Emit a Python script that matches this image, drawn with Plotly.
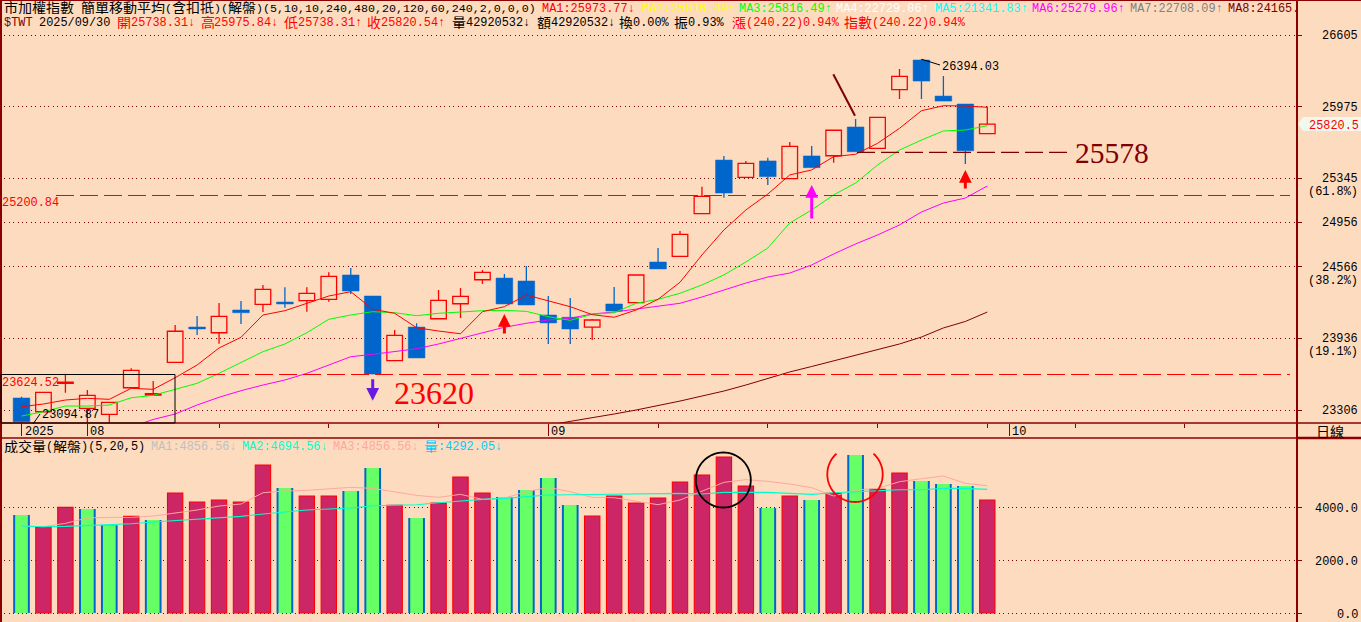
import math
import re
import plotly.graph_objects as go

W, H = 1361, 622

# ---- price data ----
opens = [23412,23291,23540,23321,23268,23502,23438,23726,24036,23986,24186,24236,24256,24268,24280,
         24494,24309,23740,24036,24109,24241,24452,24467,24441,24142,24122,24036,24239,24250,24608,
         24658,25033,25505,25353,25497,25341,25541,25543,25796,25608,26124,26385,26068,25998,25738.31]
highs = [23423,23462,23624.52,23482,23374,23673,23561,24054,24133,24247,24265,24406,24386,24386,24517,
         24555,24309,24010,24069,24362,24379,24538,24503,24573,24309,24291,24107,24388,24494,24731,
         24881,25271,25541,25497,25526,25664,25629,25767,25866,25881,26306,26394.03,26244,25998,25975.84]
lows = [23094.87,23291,23458,23104,23150,23502,23438,23726,23966,23889,24063,24168,24206,24171,24259,
        24327,23620,23740,23764,24109,24115,24415,24239,24230,23887,23887,23922,24177,24250,24547,
        24658,25033,25174,25353,25286,25341,25438,25482,25578,25608,26042,26042,26024,25470,25738.31]
closes = [23203,23462,23552,23435,23374,23655,23451,23999,24019,24130,24162,24368,24239,24333,24482,
          24353,23623,23963,23764,24271,24306,24517,24239,24230,24072,24019,24098,24177,24494,24547,
          24852,25186,25215,25476,25359,25626,25438,25767,25578,25881,26242,26200,26024,25587,25820.54]

ma_red = [23335,23359,23394,23409,23400,23497,23488,23590,23702,23852,23946,24142,24180,24245,24309,
          24347,24192,24157,24030,24001,23977,24171,24215,24318,24268,24215,24145,24122,24186,24280,
          24430,24670,24890,25066,25206,25374,25418,25535,25556,25652,25784,25939,25983,25981,25969]
ma_green = [23253,23291,23341,23341,23350,23414,23435,23488,23541,23629,23722,23819,23887,23986,24104,
            24142,24171,24162,24136,24157,24168,24180,24183,24174,24127,24095,24148,24162,24245,24280,
            24333,24406,24494,24608,24731,24951,25066,25198,25303,25461,25593,25681,25761,25769,25807]
ma_magenta = [None,None,None,None,None,23157,23223,23271,23350,23418,23476,23526,23570,23629,23702,
              23775,23796,23819,23845,23887,23937,23984,24034,24069,24098,24113,24151,24168,24195,24221,
              24245,24300,24362,24423,24476,24511,24582,24679,24767,24846,24934,25048,25127,25171,25277]
ma_dark = [None]*24 + [23174,23205,23240,23271,23306,23344,23385,23429,23473,23526,23583,23641,23689,
                       23737,23786,23834,23887,23948,24028,24085,24168]

# ---- volume data ----
volumes = [3713,3271,4004,3941,3322,3663,3524,4547,4206,4282,4206,5608,4736,4433,4433,
           4623,5494,4080,3600,4168,5153,4547,4395,4660,5115,4092,3675,4433,4168,4357,
           4964,5229,5911,4812,3978,4433,4282,4534,5987,4686,5305,5001,4888,4812,4282]
vol_sides = list("GRRGGRGRRRRRGRRGGRGRRRGGGGRRRRRRRRGRGRGRRGGGR")[:45]
vol_ma_pink = [3296,3271,3397,3600,3625,3625,3675,3776,3903,4054,4130,4559,4623,4648,4711,
               4762,4724,4585,4458,4383,4496,4307,4357,4597,4762,4597,4383,4370,4244,4105,
               4282,4623,4951,5052,4989,4888,4749,4433,4660,4724,4976,5090,5191,4913,4825]
vol_ma_cyan = [3296,3271,3284,3309,3334,3385,3448,3499,3549,3600,3663,3751,3840,3903,3941,
               3978,4067,4079,4105,4181,4256,4307,4345,4408,4471,4484,4496,4496,4496,4509,
               4534,4509,4572,4572,4572,4534,4496,4559,4597,4648,4673,4673,4724,4724,4686]

# ---- axes labels ----
price_ticks = [26605, 25975, 25345, 24956, 24566, 23936, 23306]
price_pct = {25345: "(61.8%)", 24566: "(38.2%)", 23936: "(19.1%)"}
vol_ticks = [4000, 2000, 0]
major_ticks = [0, 3, 24, 45]
major_labels = ["2025", "08", "09", "10"]
minor_ticks = [9, 14, 19, 29, 34, 39, 44, 48, 53]

# ---- styles ----
BG = "#FDDBBE"
AX = "#8B0000"
BLUE = "#0066CC"
RED = "#FF0000"
PINK = "#CC2666"
LIME = "#66FF66"
MONO = "Liberation Mono"
CJK = "Noto Sans CJK TC"
SERIF = "Liberation Serif"

# pixel frame of the panels
RIGHT = 1297
MAIN_BOT = 423
VOL_TOP = 438


def px(x):
    return x / W


def py(y):
    return 1 - y / H


XR = [(0 - 21.5) / 21.95, (RIGHT - 21.5) / 21.95]
Y_MAIN = [26913 - 8.797 * MAIN_BOT, 26913]
Y_VOL = [(613 - H) * 37.9, (613 - VOL_TOP) * 37.9]

xs = list(range(len(opens)))
fig = go.Figure()


def wick_trace(idx, color, width=1.3):
    wx, wy = [], []
    for i in idx:
        top, bot = max(opens[i], closes[i]), min(opens[i], closes[i])
        wx += [i, i, None, i, i, None]
        wy += [highs[i], top, None, bot, lows[i], None]
    return go.Scatter(x=wx, y=wy, mode="lines", line=dict(color=color, width=width),
                      hoverinfo="skip", showlegend=False, xaxis="x", yaxis="y")


up = [i for i in xs if closes[i] >= opens[i]]
down = [i for i in xs if closes[i] < opens[i]]

fig.add_trace(go.Bar(x=up, base=[opens[i] for i in up], y=[closes[i] - opens[i] for i in up], width=0.71,
                     marker=dict(color=BG, line=dict(color=RED, width=1.3)), xaxis="x", yaxis="y", showlegend=False))
fig.add_trace(go.Bar(x=down, base=[closes[i] for i in down], y=[opens[i] - closes[i] for i in down], width=0.76,
                     marker=dict(color=BLUE, line=dict(color=BLUE, width=0.5)), xaxis="x", yaxis="y", showlegend=False))
fig.add_trace(wick_trace(up, RED))
fig.add_trace(wick_trace(down, BLUE))

for series, col in ((ma_dark, "#800000"), (ma_magenta, "#FF00FF"), (ma_green, "#00FF00"), (ma_red, RED)):
    fig.add_trace(go.Scatter(x=xs, y=series, mode="lines", line=dict(color=col, width=1),
                             hoverinfo="skip", showlegend=False, xaxis="x", yaxis="y"))

vr = [i for i in xs if vol_sides[i] == "R"]
vg = [i for i in xs if vol_sides[i] == "G"]
fig.add_trace(go.Bar(x=vr, y=[volumes[i] for i in vr], width=0.70,
                     marker=dict(color=PINK, line=dict(color=RED, width=1.1)), xaxis="x2", yaxis="y2", showlegend=False))
fig.add_trace(go.Bar(x=vg, y=[volumes[i] for i in vg], width=0.76,
                     marker=dict(color=BLUE, line=dict(width=0)), xaxis="x2", yaxis="y2", showlegend=False))
fig.add_trace(go.Bar(x=vg, y=[volumes[i] for i in vg], width=0.58,
                     marker=dict(color=LIME, line=dict(width=0)), xaxis="x2", yaxis="y2", showlegend=False))
fig.add_trace(go.Scatter(x=xs, y=vol_ma_pink, mode="lines", line=dict(color="#FFA8A0", width=1),
                         hoverinfo="skip", showlegend=False, xaxis="x2", yaxis="y2"))
fig.add_trace(go.Scatter(x=xs, y=vol_ma_cyan, mode="lines", line=dict(color="#00FFCC", width=1.1),
                         hoverinfo="skip", showlegend=False, xaxis="x2", yaxis="y2"))

annots = []
RUN_RE = re.compile(r"[\u4e00-\u9fff]+|[^\u4e00-\u9fff]+")


def put(s, x, y, color, size, anchor, family, height=None):
    a = dict(text=s, xref="paper", yref="paper", x=px(x), y=py(y), xanchor=anchor, yanchor="middle",
             showarrow=False, borderpad=0, font=dict(family=family, size=size, color=color))
    if height:
        a["height"] = height
        a["valign"] = "middle"
    annots.append(a)


def txt(s, x, y, color="#000000", cw=7.14, anchor="left"):
    """Mono text; runs of CJK are set separately, 14px wide, on the same row."""
    if anchor != "left":
        put(s, x, y + 2, color, cw / 0.6, anchor, MONO)
        return
    for run in RUN_RE.findall(s):
        if "\u4e00" <= run[0] <= "\u9fff":
            put(run, x, y + 0.5, color, 14, "left", CJK, height=15)
            x += 14 * len(run)
        else:
            lead = len(run) - len(run.lstrip())
            body = run.strip()
            if body:
                put(body, x + lead * cw, y + 2, color, cw / 0.6, "left", MONO)
            x += cw * len(run)


def big(s, x, y, color, size):
    put(s, x, y, color, size, "left", SERIF)


# header rows
txt("市加權指數 簡單移動平均(含扣抵)(解盤)(5,10,10,240,480,20,120,60,240,2,0,0,0)", 3, 6.5, cw=7.0)
for s, x, c in (("MA1:25973.77↓", 541, RED), ("MA2:25816.49↑", 641, "#FFFF00"), ("MA3:25816.49↑", 738, "#00FF00"),
                ("MA4:22729.06↑", 835, "#FFFFFF"), ("MA5:21341.83↑", 934, "#00FFFF"), ("MA6:25279.96↑", 1031, "#FF00FF"),
                ("MA7:22708.09↑", 1129, "#808080"), ("MA8:24165.", 1227, "#800000")):
    txt(s, x, 6.5, c)
for s, x, c in (("$TWT", 3, "#800000"), ("2025/09/30", 38, "#000000"), ("開25738.31↓", 116, RED), ("高25975.84↓", 199.5, RED),
                ("低25738.31↑", 283, RED), ("收25820.54↑", 366, RED), ("量42920532↓", 451, "#000000"),
                ("額42920532↓", 535.5, "#000000"), ("換0.00%", 618, "#000000"), ("振0.93%", 673, "#000000"),
                ("漲(240.22)0.94%", 731, RED), ("指數(240.22)0.94%", 843, RED)):
    txt(s, x, 21, c)

# volume header
for s, x, c in (("成交量(解盤)(5,20,5)", 3, "#000000"), ("MA1:4856.56↓", 150, "#C0C0C0"), ("MA2:4694.56↓", 241, "#00FFCC"),
                ("MA3:4856.56↓", 332, "#FFA8A0"), ("量:4292.05↓", 423, "#00CCFF")):
    txt(s, x, 445, c)

# right-hand labels
for v in price_ticks:
    yv = (26913 - v) / 8.797
    txt(str(v), 1359, yv - 1, anchor="right")
    if v in price_pct:
        txt(price_pct[v], 1359, yv + 12, anchor="right")
for v in vol_ticks:
    txt(f"{v:.1f}", 1359, 613 - v / 37.9, anchor="right")
put("日線", 1329.5, 430.5, "#000000", 14, "center", CJK, height=15)
txt("25820.5", 1360, 124, RED, anchor="right")

# x labels
for lab, i in zip(major_labels, major_ticks):
    txt(lab, 21.5 + 21.95 * i + 2, 430)

# price notes
txt("25200.84", 1, 201, RED)
txt("23624.52", 1, 381, RED)
txt("23094.87", 41, 413)
txt("26394.03", 941, 65)
big("25578", 1074, 153, "#800000", 29.5)
big("23620", 393, 392.5, RED, 32)

# arrows
for i, val, off, col in ((16, 23388, -23, "#6A1BE0"), (22, 24151, 21, RED), (36, 25286, 35, "#FF00FF"), (43, 25417, 20, RED)):
    annots.append(dict(text="", x=i, y=val, xref="x", yref="y", ax=0, ay=off, showarrow=True, arrowhead=2,
                       arrowsize=0.85, arrowwidth=3, arrowcolor=col, standoff=0, startstandoff=0))

shapes = []


def pline(x0, y0, x1, y1, color=AX, width=1, dash=None):
    ln = dict(color=color, width=width)
    if dash:
        ln["dash"] = dash
    shapes.append(dict(type="line", xref="paper", yref="paper", x0=px(x0), y0=py(y0), x1=px(x1), y1=py(y1), line=ln))


# frame
pline(0, 0.5, W, 0.5, width=1)
pline(1, 0, 1, H, width=2)
pline(RIGHT, 0, RIGHT, H, width=2)
pline(0, MAIN_BOT, W, MAIN_BOT, width=1.5)
pline(0, VOL_TOP, W, VOL_TOP, width=1.5)
pline(RIGHT, VOL_TOP, W, VOL_TOP, width=2.5)

# level lines
DASH = "18px,6px"
pline(56, 195.5, 1290, 195.5, RED, 1.2, DASH)
pline(183, 374.5, 1290, 374.5, RED, 1.2, DASH)
pline(857, 152.3, 1072, 152.3, "#800000", 1.2, DASH)

# black box, leaders and slash
shapes.append(dict(type="rect", xref="paper", yref="paper", x0=px(1), y0=py(374.5), x1=px(175), y1=py(423),
                   line=dict(color="#000000", width=1)))
pline(33, 424, 40, 414, "#000000", 1)
pline(921.7, 59.3, 940, 65, "#000000", 1)
pline(833.3, 74.3, 855, 115.7, "#800000", 2)


def arc(cx, cy, r, a0, a1, color):
    pts = []
    n = 72
    for k in range(n + 1):
        a = math.radians(a0 + (a1 - a0) * k / n)
        pts.append((px(cx + r * math.cos(a)), py(cy + r * math.sin(a))))
    path = "M " + " L ".join(f"{a:.5f},{b:.5f}" for a, b in pts)
    shapes.append(dict(type="path", xref="paper", yref="paper", path=path, line=dict(color=color, width=1.8)))


arc(723.3, 480, 27.5, 0, 360, "#000000")
arc(855, 474.3, 27.7, -48, 228, RED)

# price tag
tag = [(1298, 124), (1303, 117), (W, 117), (W, 131), (1303, 131)]
shapes.append(dict(type="path", xref="paper", yref="paper", fillcolor="#F0F8F0", line=dict(width=0),
                   path="M " + " L ".join(f"{px(a):.5f},{py(b):.5f}" for a, b in tag) + " Z"))

GRID = dict(showgrid=True, gridcolor="#800000", griddash="1px,3.4px", gridwidth=1, zeroline=False,
            ticks="outside", ticklen=4, tickcolor=AX, showticklabels=False, side="right", tickwidth=1)

fig.update_layout(
    width=W, height=H, margin=dict(l=0, r=0, t=0, b=0), paper_bgcolor=BG, plot_bgcolor=BG,
    barmode="overlay", showlegend=False, shapes=shapes, annotations=annots,
    xaxis=dict(domain=[0, px(RIGHT)], range=XR, showgrid=False, zeroline=False, showticklabels=False,
               ticks="outside", ticklen=12, tickcolor=AX, tickvals=major_ticks, anchor="y",
               minor=dict(ticks="outside", ticklen=4, tickcolor=AX, tickvals=minor_ticks, showgrid=False)),
    yaxis=dict(domain=[py(MAIN_BOT), 1], range=Y_MAIN, tickvals=price_ticks, anchor="x", **GRID),
    xaxis2=dict(domain=[0, px(RIGHT)], range=XR, showgrid=False, zeroline=False, showticklabels=False, ticks="", anchor="y2"),
    yaxis2=dict(domain=[0, py(VOL_TOP)], range=Y_VOL, tickvals=vol_ticks, anchor="x2", **GRID),
)

fig.write_html("out.html", config=dict(displayModeBar=False),
               post_script="document.body.style.margin='0';document.body.style.overflow='hidden';")
